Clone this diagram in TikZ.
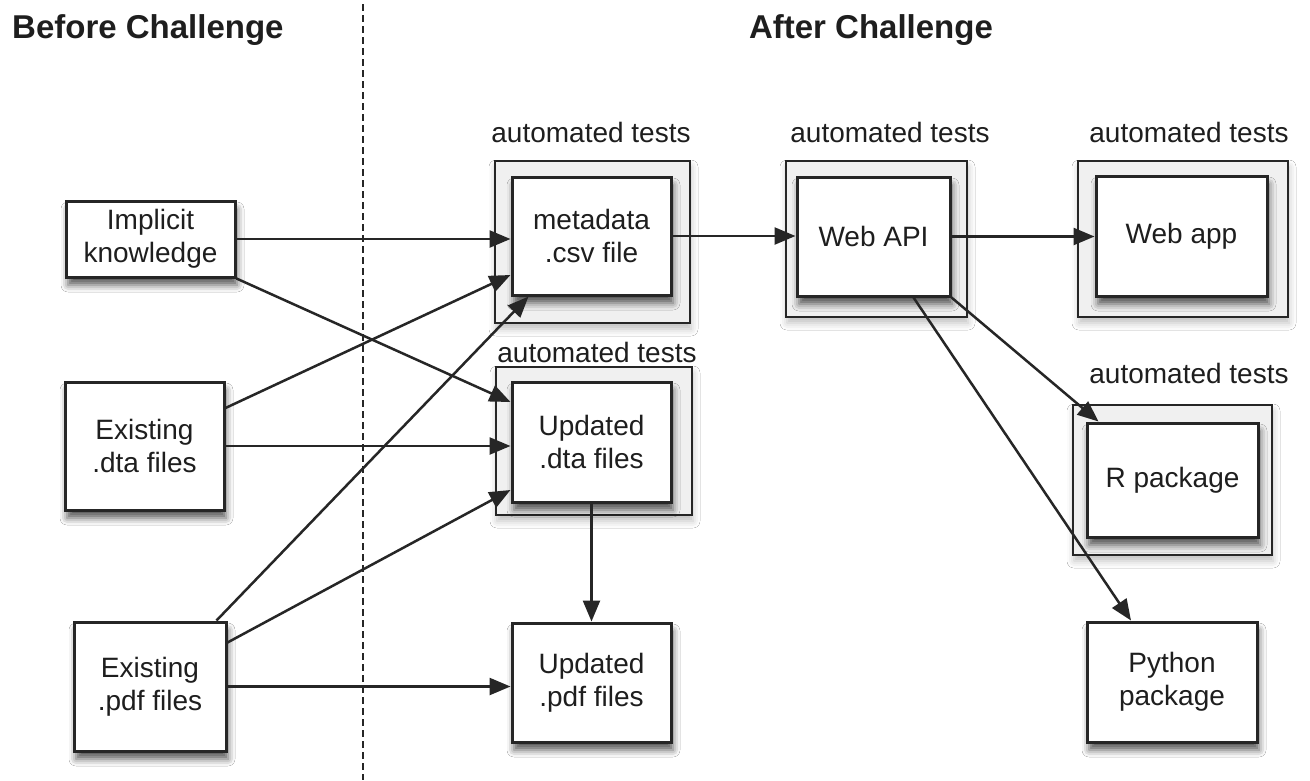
\documentclass[tikz,border=0pt]{standalone}
\usepackage{fontspec}
\setmainfont{Liberation Sans}
\usetikzlibrary{arrows.meta,calc,shadows.blur}
\definecolor{ln}{HTML}{262626}
\definecolor{tx}{HTML}{1E1E1E}
\tikzset{
 box/.style={draw=ln, line width=3pt, fill=white, align=center, inner sep=0pt,
   font=\fontsize{28}{33}\selectfont, text=tx,
   blur shadow={shadow xshift=2pt, shadow yshift=-8pt, shadow blur radius=7pt, shadow opacity=65}},
 outerbox/.style={draw=ln, line width=2.5pt, fill=gray!12, inner sep=0pt,
   blur shadow={shadow xshift=1pt, shadow yshift=-6pt, shadow blur radius=7pt, shadow opacity=25}},
 lbl/.style={font=\fontsize{28}{30}\selectfont, text=tx, inner sep=0pt},
 head/.style={font=\bfseries\fontsize{33}{36}\selectfont, text=tx, inner sep=0pt},
 arr/.style={draw=ln, line width=2.5pt, -{Triangle[length=21pt,width=17pt]}},
}
\begin{document}
\begin{tikzpicture}[x=1pt,y=-1pt]
\useasboundingbox (0,0) rectangle (1310,780);
\fill[white] (0,0) rectangle (1310,780);

% headers and divider
\node[head, anchor=west] (hb) at (12,30) {Before Challenge};
\node[head] (ha) at (871,30) {After Challenge};
\coordinate (dtop) at (363,4);
\coordinate (dbot) at (363,780);
\draw[ln, line width=2.6pt, dash pattern=on 7pt off 4pt] (dtop) -- (dbot);

% outer "automated tests" frames
\node[outerbox, minimum width=195pt, minimum height=162pt] (metaO) at (592.5,242) {};
\node[outerbox, minimum width=196pt, minimum height=148pt] (updO) at (594,441) {};
\node[outerbox, minimum width=181pt, minimum height=156pt] (apiO) at (876.5,239) {};
\node[outerbox, minimum width=210pt, minimum height=156pt] (appO) at (1183,239) {};
\node[outerbox, minimum width=199pt, minimum height=150pt] (rO) at (1172.5,480) {};

% labels
\node[lbl] (l1) at (591,132) {automated tests};
\node[lbl] (l2) at (890,132) {automated tests};
\node[lbl] (l3) at (1189,132) {automated tests};
\node[lbl] (l4) at (597,352) {automated tests};
\node[lbl] (l5) at (1189,373) {automated tests};

% boxes
\node[box, minimum width=169pt, minimum height=76pt] (impl) at (150.5,239) {Implicit\\knowledge};
\node[box, minimum width=159pt, minimum height=128pt] (dta) at (144.5,446) {Existing\\.dta files};
\node[box, minimum width=152pt, minimum height=129pt] (pdf) at (150,686.5) {Existing\\.pdf files};
\node[box, minimum width=159pt, minimum height=118pt] (meta) at (591.5,236) {metadata\\.csv file};
\node[box, minimum width=159pt, minimum height=120pt] (upd) at (591.5,442) {Updated\\.dta files};
\node[box, minimum width=159pt, minimum height=119pt] (updpdf) at (591.5,682.5) {Updated\\.pdf files};
\node[box, minimum width=153pt, minimum height=119pt] (api) at (873.5,236.5) {Web API};
\node[box, minimum width=171pt, minimum height=120pt] (app) at (1181.5,236) {Web app};
\node[box, minimum width=171pt, minimum height=114pt] (rpk) at (1172.5,480) {R package};
\node[box, minimum width=170pt, minimum height=120pt] (py) at (1172,682) {Python\\package};

% connectors
\draw[arr] (impl.east) -- (impl.east -| meta.west);
\draw[arr] (impl.south east) -- ($(upd.west)+(0,-40)$);
\draw[arr] ($(dta.east)+(0,-38)$) -- ($(meta.west)+(0,39)$);
\draw[arr] (dta.east) -- (dta.east -| upd.west);
\draw[arr] ($(pdf.north east)+(-11,0)$) -- ($(meta.south west)+(18,0)$);
\draw[arr] ($(pdf.east)+(0,-44)$) -- ($(upd.west)+(0,48)$);
\draw[arr] (pdf.east) -- (pdf.east -| updpdf.west);
\draw[arr] (upd.south) -- (updpdf.north);
\draw[arr] (meta.east) -- (meta.east -| api.west);
\draw[arr] (api.east) -- (api.east -| app.west);
\draw[arr] (api.south east) -- ($(rpk.north west)+(13,0)$);
\draw[arr] ($(api.south)+(40,0)$) -- ($(py.north)+(-41,0)$);
\end{tikzpicture}
\end{document}
